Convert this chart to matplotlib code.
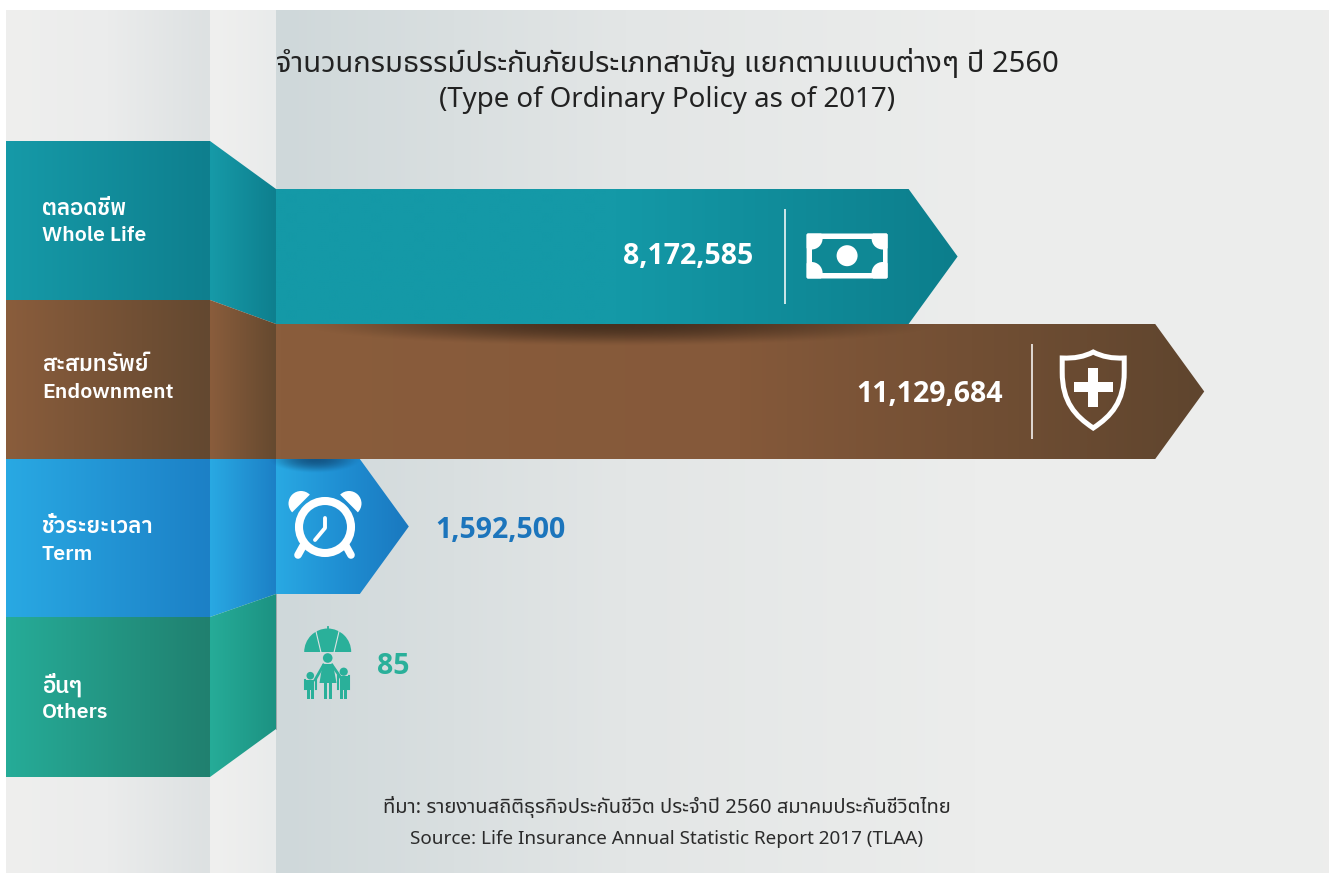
import numpy as np
import matplotlib
matplotlib.use("Agg")
import matplotlib.pyplot as plt
from matplotlib.colors import LinearSegmentedColormap
from matplotlib.patches import Polygon, Circle, Wedge, Rectangle, FancyBboxPatch, PathPatch
from matplotlib.path import Path

plt.rcParams['font.family'] = ['Noto Sans Thai', 'Noto Sans', 'DejaVu Sans']
NEGRITA = ['IBM Plex Sans Thai', 'Noto Sans', 'DejaVu Sans']

# --- Datos ---
titulo_th = "จำนวนกรมธรรม์ประกันภัยประเภทสามัญ แยกตามแบบต่างๆ ปี 2560"
titulo_en = "(Type of Ordinary Policy as of 2017)"
categorias_th = ["ตลอดชีพ", "สะสมทรัพย์", "ชั่วระยะเวลา", "อื่นๆ"]
categorias_en = ["Whole Life", "Endownment", "Term", "Others"]
valores = [8172585, 11129684, 1592500, 85]
fuente_th = "ที่มา: รายงานสถิติธุรกิจประกันชีวิต ประจำปี 2560 สมาคมประกันชีวิตไทย"
fuente_en = "Source: Life Insurance Annual Statistic Report 2017 (TLAA)"

# --- Colores ---
tonos_panel = [("#169aa8", "#0e7f8e"), ("#8a5d3c", "#634830"), ("#29a9e3", "#1c80c6"), ("#26ac98", "#20806f")]
tonos_pliegue = [("#169aa8", "#0e7f8e"), ("#8a5d3c", "#65492f"), ("#29a9e3", "#1c80c6"), ("#26ac98", "#1c9282")]
tonos_barra = [("#1499a7", "#1499a7", "#0c7e8c"), ("#8a5d3c", "#85593a", "#5f452e"), ("#29a9e3", "#1f8ed2", "#1a78bf")]
color_azul = "#1c75bc"
color_verde = "#2ab09a"

# --- Geometria en pixeles ---
ANCHO, ALTO = 1332, 873
X_BARRA = 276
ESCALA = 83.4e-6   # pixeles por poliza
PUNTA = 49 / ESCALA
cortes_panel = [141, 300, 459, 617, 777]
pliegue_der = [(189, 324), (324, 459), (459, 594), (594, 729)]

fig = plt.figure(figsize=(ANCHO / 100, ALTO / 100), dpi=100, facecolor="white")


def ejes_pixel(zorder):
    a = fig.add_axes([0, 0, 1, 1], zorder=zorder)
    a.patch.set_alpha(0)
    a.axis("off")
    return a


def degradado(a, x0, x1, y0, y1, colores, verts=None, z=1):
    # degradado horizontal, recortado a un poligono si hace falta
    cmap = LinearSegmentedColormap.from_list("g", list(colores))
    g = np.linspace(0, 1, 256).reshape(1, -1)
    im = a.imshow(g, cmap=cmap, extent=(x0, x1, y1, y0), aspect="auto", zorder=z, interpolation="bilinear")
    if verts is not None:
        p = Polygon(verts, closed=True, transform=a.transData, facecolor="none", edgecolor="none")
        a.add_patch(p)
        im.set_clip_path(p)
    return im


def sombra(a, xc, yc, w, h, color, fuerza):
    # sombra eliptica bajo la barra de arriba
    xx, yy = np.meshgrid(np.linspace(xc - w, xc + w, 300), np.linspace(yc, yc + h, 60))
    al = np.clip(1 - ((xx - xc) / w) ** 2 - ((yy - yc) / h) ** 2, 0, 1) ** 1.4 * fuerza
    img = np.zeros(al.shape + (4,))
    img[..., :3] = matplotlib.colors.to_rgb(color)
    img[..., 3] = al
    a.imshow(img, extent=(xc - w, xc + w, yc + h, yc), aspect="auto", zorder=5, interpolation="bilinear")


# --- Fondo y paneles ---
fondo = ejes_pixel(0)
degradado(fondo, 6, 210, 10, ALTO, ["#efefee", "#ebecec", "#dde1e2"])
degradado(fondo, 210, 276, 10, ALTO, ["#f0f0ef", "#e9ebeb"])
degradado(fondo, 276, 1329, 10, ALTO, ["#cfd8da", "#e3e6e6", "#ecedec", "#ededec"])

for i in range(4):
    arriba, abajo = cortes_panel[i], cortes_panel[i + 1]
    degradado(fondo, 6, 210, arriba, abajo, tonos_panel[i], z=2)
    y0, y1 = pliegue_der[i]
    verts = [(210, arriba), (276, y0), (276, y1), (210, abajo)]
    degradado(fondo, 210, 276, min(arriba, y0), max(abajo, y1), tonos_pliegue[i], verts=verts, z=2)
fondo.plot([276, 276], [189, 729], color="#5a6a6a", lw=0.6, alpha=0.5, zorder=3)
fondo.set_xlim(0, ANCHO)
fondo.set_ylim(ALTO, 0)

# --- Barras: x en polizas, y en categorias ---
barras = fig.add_axes([X_BARRA / ANCHO, 0, (ANCHO - X_BARRA) / ANCHO, 1], zorder=1)
barras.patch.set_alpha(0)
barras.axis("off")
for i, v in enumerate(valores[:3]):
    plano = v - PUNTA
    verts = [(0, i - 0.5), (plano, i - 0.5), (v, i), (plano, i + 0.5), (0, i + 0.5)]
    degradado(barras, 0, v, i - 0.5, i + 0.5, tonos_barra[i], verts=verts, z=2)
barras.set_xlim(0, (ANCHO - X_BARRA) / ESCALA)
barras.set_ylim((ALTO - 256.5) / 135, -256.5 / 135)

# --- Capa superior: sombras, textos e iconos ---
capa = ejes_pixel(2)
sombra(capa, 620, 324, 320, 22, "#2f2015", 0.72)
sombra(capa, 315, 459, 46, 14, "#0d3a63", 0.7)


def pix_x(v):
    return X_BARRA + v * ESCALA


BLANCO = "white"
# separadores
for i in (0, 1):
    xs = pix_x(valores[i]) - 172.5
    yc = 256.5 + 135 * i
    capa.plot([xs, xs], [yc - 47.5, yc + 47.5], color=BLANCO, lw=1.3, alpha=0.85, zorder=6, solid_capstyle="butt")

# billete
xs = pix_x(valores[0]) - 172.5
billete = FancyBboxPatch((xs + 21.5, 233.5), 81, 45, boxstyle="round,pad=0,rounding_size=1.5", fc=BLANCO, ec="none", zorder=6)
capa.add_patch(billete)
capa.add_patch(Rectangle((xs + 26.5, 238.5), 71, 34.5, fc="#0f8895", ec="none", zorder=7))
for cx, cy in [(xs + 26.5, 238.5), (xs + 97.5, 238.5), (xs + 26.5, 273), (xs + 97.5, 273)]:
    esquina = Circle((cx, cy), 11, fc=BLANCO, ec="none", zorder=8)
    capa.add_patch(esquina)
    esquina.set_clip_path(billete)
capa.add_patch(Circle((xs + 62, 255.7), 10.5, fc=BLANCO, ec="none", zorder=8))

# escudo
xe = pix_x(valores[1]) - 111
cod = [Path.MOVETO, Path.CURVE3, Path.CURVE3, Path.LINETO,
       Path.CURVE4, Path.CURVE4, Path.CURVE4, Path.CURVE4, Path.CURVE4, Path.CURVE4, Path.LINETO, Path.CURVE3, Path.CURVE3, Path.CLOSEPOLY]
pts = [(xe, 352), (xe - 13, 359), (xe - 31, 358), (xe - 31, 372),
       (xe - 31, 402), (xe - 18, 416), (xe, 428), (xe + 18, 416), (xe + 31, 402), (xe + 31, 372),
       (xe + 31, 358), (xe + 13, 359), (xe, 352), (xe, 352)]
capa.add_patch(PathPatch(Path(pts, cod), fc="none", ec=BLANCO, lw=3.6, zorder=6, joinstyle="miter"))
capa.add_patch(Rectangle((xe - 5, 368), 10, 38.5, fc=BLANCO, ec="none", zorder=6))
capa.add_patch(Rectangle((xe - 19, 382), 38.5, 10, fc=BLANCO, ec="none", zorder=6))

# reloj
cx, cy = 325, 527
capa.add_patch(Circle((cx, cy), 26, fc="none", ec=BLANCO, lw=5.8, zorder=6))
capa.add_patch(Wedge((301, 503.5), 12.5, 135, 315, fc=BLANCO, ec="none", zorder=6))
capa.add_patch(Wedge((349, 503.5), 12.5, 225, 405, fc=BLANCO, ec="none", zorder=6))
capa.plot([303, 298], [546, 555], color=BLANCO, lw=5.5, solid_capstyle="round", zorder=6)
capa.plot([346, 351], [546, 555], color=BLANCO, lw=5.5, solid_capstyle="round", zorder=6)
capa.plot([325, 325, 315], [518, 528, 540], color=BLANCO, lw=2.8, solid_capstyle="round", solid_joinstyle="round", zorder=6)

# familia con paraguas
V = color_verde
capa.add_patch(Wedge((327.7, 652), 23.5, 180, 360, fc=V, ec="none", zorder=6))
capa.plot([327.7, 327.7], [627, 632], color=V, lw=1.3, zorder=6)
for xa, xb in [(316, 321), (339, 334)]:
    capa.plot([xa, xb], [631.5, 652.5], color="#dde2e3", lw=0.8, zorder=7)
capa.add_patch(Circle((327.7, 658), 4.8, fc=V, ec="none", zorder=6))
capa.add_patch(Polygon([(322.5, 664), (333, 664), (336.5, 683), (319.5, 683)], fc=V, ec="none", zorder=6))
capa.add_patch(Rectangle((324, 683), 3.4, 15.5, fc=V, ec="none", zorder=6))
capa.add_patch(Rectangle((328.8, 683), 3.4, 15.5, fc=V, ec="none", zorder=6))
capa.plot([323.5, 315], [665, 680], color=V, lw=2, zorder=6)
capa.plot([332, 341], [665, 678], color=V, lw=2, zorder=6)
for hx, hy, r, top in [(310.3, 675.7, 3.8, 680), (343.7, 671.7, 4.1, 676)]:
    capa.add_patch(Circle((hx, hy), r, fc=V, ec="none", zorder=6))
    capa.add_patch(Rectangle((hx - 4, top), 8, 690 - top, fc=V, ec="none", zorder=6))
    capa.add_patch(Rectangle((hx - 3.5, 690), 3.2, 8.5, fc=V, ec="none", zorder=6))
    capa.add_patch(Rectangle((hx + 0.3, 690), 3.2, 8.5, fc=V, ec="none", zorder=6))
    capa.plot([hx - 5.5, hx - 5.5], [top, 689], color=V, lw=1.5, zorder=6)
    capa.plot([hx + 5.5, hx + 5.5], [top, 689], color=V, lw=1.5, zorder=6)

# --- Textos ---
capa.text(667, 64, titulo_th, ha="center", va="center", fontsize=21, color="#222222", zorder=9)
capa.text(667, 100, titulo_en, ha="center", va="center", fontsize=19.9, color="#222222", zorder=9)

pos_th = [208.5, 364.5, 526.5, 685]
pos_en = [235.5, 392.5, 554.5, 712.5]
for i in range(4):
    capa.text(42, pos_th[i], categorias_th[i], family=NEGRITA, color=BLANCO, fontsize=16, fontweight=600, va="center", zorder=9)
    capa.text(42, pos_en[i], categorias_en[i], family=NEGRITA, color=BLANCO, fontsize=15.3, fontweight=600, va="center", zorder=9)

kw_valor = dict(family=['Open Sans', 'Noto Sans', 'DejaVu Sans'], fontsize=20.5, fontweight="bold", va="center", zorder=9)
capa.text(pix_x(valores[0]) - 204, 257, f"{valores[0]:,}", color=BLANCO, ha="right", **kw_valor)
capa.text(pix_x(valores[1]) - 201, 395, f"{valores[1]:,}", color=BLANCO, ha="right", **kw_valor)
capa.text(435, 530, f"{valores[2]:,}", color=color_azul, **kw_valor)
capa.text(377, 667, f"{valores[3]:,}", color=color_verde, **kw_valor)

capa.text(667, 807, fuente_th, ha="center", va="center", fontsize=14.5, color="#2b2b2b", zorder=9)
capa.text(667, 839, fuente_en, ha="center", va="center", fontsize=13.6, color="#2b2b2b", zorder=9)

capa.set_xlim(0, ANCHO)
capa.set_ylim(ALTO, 0)

fig.savefig("out.png", dpi=100)
